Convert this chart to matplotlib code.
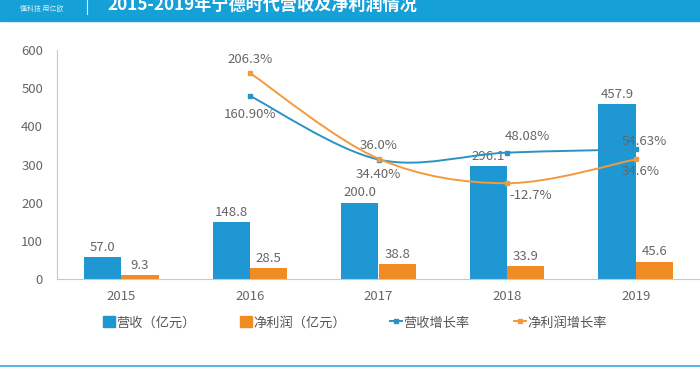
import numpy as np
import matplotlib
matplotlib.use('Agg')
import matplotlib.pyplot as plt
from matplotlib.path import Path
from matplotlib.patches import PathPatch, Rectangle
from matplotlib.lines import Line2D

plt.rcParams['font.family'] = ['Noto Sans CJK SC', 'DejaVu Sans']

years = ['2015', '2016', '2017', '2018', '2019']
revenue = [57.0, 148.8, 200.0, 296.1, 457.9]
profit = [9.3, 28.5, 38.8, 33.9, 45.6]
growth_years = [1, 2, 3, 4]
rev_growth = [160.90, 34.40, 48.08, 54.63]
profit_growth = [206.3, 36.0, -12.7, 34.6]
rev_growth_labels = ['160.90%', '34.40%', '48.08%', '54.63%']
profit_growth_labels = ['206.3%', '36.0%', '-12.7%', '34.6%']

BLUE = '#1f97d3'
ORANGE = '#f18c25'
LBLUE = '#2a93c4'
LORANGE = '#f29a3c'
GRAY = '#666666'

fig = plt.figure(figsize=(7, 3.7), dpi=100)
ax = fig.add_axes([57 / 700, 91 / 370, 643 / 700, 229 / 370])

x = np.arange(len(years))
w = 0.29
ax.bar(x - w / 2, revenue, w, color=BLUE)
ax.bar(x + w / 2, profit, w, color=ORANGE)
for xi, v in zip(x, revenue):
    ax.text(xi - w / 2, v + 9, f'{v:.1f}', ha='center', va='bottom', fontsize=9.5, color=GRAY)
for xi, v in zip(x, profit):
    ax.text(xi + w / 2, v + 9, f'{v:.1f}', ha='center', va='bottom', fontsize=9.5, color=GRAY)

ax.set_xlim(-0.5, 4.5)
ax.set_ylim(0, 600)
ax.set_yticks(range(0, 601, 100))
ax.set_xticks(x)
ax.set_xticklabels(years)
ax.tick_params(length=0, labelsize=9.5, labelcolor=GRAY, pad=8)
ax.tick_params(axis='y', pad=10)
for s in ['top', 'right']:
    ax.spines[s].set_visible(False)
for s in ['left', 'bottom']:
    ax.spines[s].set_color('#c8c8c8')
    ax.spines[s].set_linewidth(0.8)

ax2 = ax.twinx()
ax2.set_ylim(-203, 252)
ax2.axis('off')


def smooth_path(xs, ys):
    pts = np.column_stack([xs, ys]).astype(float)
    verts = [pts[0]]
    codes = [Path.MOVETO]
    n = len(pts)
    for i in range(n - 1):
        p0 = pts[i - 1] if i > 0 else pts[i]
        p1 = pts[i]
        p2 = pts[i + 1]
        p3 = pts[i + 2] if i + 2 < n else pts[i + 1]
        c1 = p1 + (p2 - p0) / 6
        c2 = p2 - (p3 - p1) / 6
        verts += [c1, c2, p2]
        codes += [Path.CURVE4] * 3
    return Path(verts, codes)


for ys, col in [(rev_growth, LBLUE), (profit_growth, LORANGE)]:
    ax2.add_patch(PathPatch(smooth_path(growth_years, ys), fc='none', ec=col, lw=1.4))
    ax2.plot(growth_years, ys, ls='none', marker='s', ms=3.5, color=col)

lab_kw = dict(fontsize=9.5, color=GRAY)
# revenue growth labels
ax2.annotate(rev_growth_labels[0], (1, rev_growth[0]), xytext=(0, -9), textcoords='offset points', ha='center', va='top', **lab_kw)
ax2.annotate(rev_growth_labels[1], (2, rev_growth[1]), xytext=(0, -6), textcoords='offset points', ha='center', va='top', **lab_kw)
ax2.annotate(rev_growth_labels[2], (3, rev_growth[2]), xytext=(-2, 7), textcoords='offset points', ha='left', va='bottom', **lab_kw)
ax2.annotate(rev_growth_labels[3], (4, rev_growth[3]), xytext=(-10, 1), textcoords='offset points', ha='left', va='bottom', **lab_kw)
# net profit growth labels
ax2.annotate(profit_growth_labels[0], (1, profit_growth[0]), xytext=(0, 5), textcoords='offset points', ha='center', va='bottom', **lab_kw)
ax2.annotate(profit_growth_labels[1], (2, profit_growth[1]), xytext=(0, 5), textcoords='offset points', ha='center', va='bottom', **lab_kw)
ax2.annotate(profit_growth_labels[2], (3, profit_growth[2]), xytext=(2, -4), textcoords='offset points', ha='left', va='top', **lab_kw)
ax2.annotate(profit_growth_labels[3], (4, profit_growth[3]), xytext=(-10, -4), textcoords='offset points', ha='left', va='top', **lab_kw)

# legend
handles = [
    Rectangle((0, 0), 1, 1, color=BLUE),
    Rectangle((0, 0), 1, 1, color=ORANGE),
    Line2D([], [], color=LBLUE, marker='s', ms=3.5, lw=1.4),
    Line2D([], [], color=LORANGE, marker='s', ms=3.5, lw=1.4),
]
names = ['营收（亿元）', '净利润（亿元）', '营收增长率', '净利润增长率']
fig.legend(handles, names, loc='center', bbox_to_anchor=(355 / 700, 1 - 323 / 370), ncol=4, frameon=False,
           fontsize=9.5, handlelength=0.9, handleheight=0.9, handletextpad=0.1, columnspacing=3.35,
           labelcolor='#555555')

# header banner
fig.patches.append(Rectangle((0, 1 - 21 / 370), 1, 21 / 370, transform=fig.transFigure, color='#16a0d8', zorder=0))
fig.text(20 / 700, 1 - 9 / 370, '懂科技 用亿欧', fontsize=5, color='#d8eef8', va='center')
fig.add_artist(Line2D([87 / 700, 87 / 700], [1 - 14 / 370, 1], color='#d8eef8', lw=0.8))
fig.text(107 / 700, 1 - 10 / 370, '2015-2019年宁德时代营收及净利润情况', fontsize=12.3, fontweight='bold',
         color='white', va='baseline')
fig.add_artist(Line2D([0, 1], [1 - 366 / 370] * 2, color='#3aa9db', lw=1.2))

fig.savefig('out.png', dpi=100)
